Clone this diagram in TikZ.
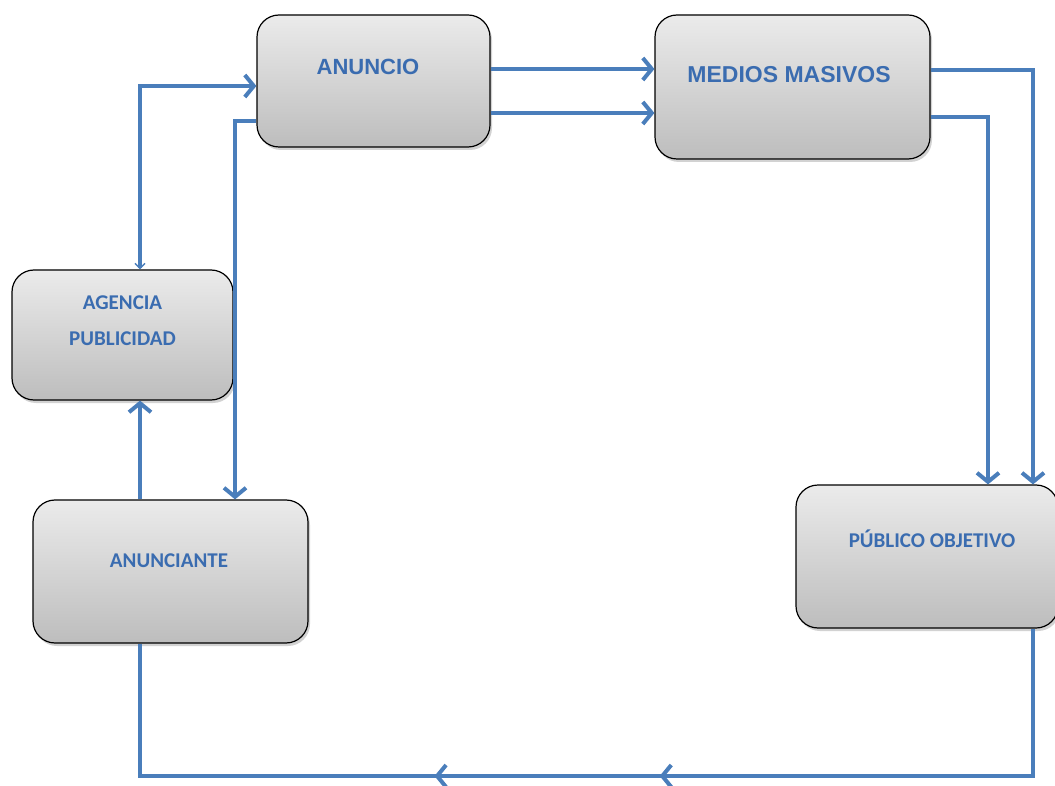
\documentclass[tikz,border=0pt]{standalone}
\usepackage{fontspec}
\newfontfamily\arialb{Liberation Sans}
\newfontfamily\calib{Carlito}
\usetikzlibrary{arrows.meta,shadows,calc,decorations.markings}
\definecolor{lineblue}{HTML}{4A7EBB}
\definecolor{textblue}{HTML}{3A6CB0}
\definecolor{boxtop}{HTML}{EBEBEB}
\definecolor{boxbot}{HTML}{BDBDBD}
\tikzset{
  box/.style={draw=black, line width=1.2pt, rounded corners=22pt,
    top color=boxtop, bottom color=boxbot,
    drop shadow={opacity=0.35, shadow xshift=2pt, shadow yshift=-3pt}},
  lbl/.style={text=textblue, anchor=base, inner sep=0pt},
  conn/.style={draw=lineblue, line width=4pt},
  tip/.style={-{Straight Barb[length=9pt,width=22pt,line width=4pt]}},
}
\begin{document}
\begin{tikzpicture}[x=1pt,y=-1pt]
\useasboundingbox[fill=white] (0,0) rectangle (1055,786);

% boxes
\node[box, minimum width=233pt, minimum height=132pt] (anuncio) at (373.5,81) {};
\node[box, minimum width=275pt, minimum height=144pt] (medios) at (792.5,87) {};
\node[box, minimum width=221pt, minimum height=130pt] (agencia) at (122.5,335) {};
\node[box, minimum width=275pt, minimum height=143pt] (anunciante) at (170.5,571.5) {};
\node[box, minimum width=262pt, minimum height=143pt] (publico) at (927,556.5) {};

% labels
\node[lbl, font=\arialb\bfseries\fontsize{22}{24}\selectfont] (t1) at ([xshift=-5.5pt,yshift=6pt]anuncio.center) {ANUNCIO};
\node[lbl, font=\arialb\bfseries\fontsize{23}{25}\selectfont] (t2) at ([xshift=-3.5pt,yshift=4pt]medios.center) {MEDIOS MASIVOS};
\node[lbl, font=\calib\bfseries\fontsize{21}{23}\selectfont] (t3) at ([yshift=25pt]agencia.center) {AGENCIA};
\node[lbl, font=\calib\bfseries\fontsize{21}{23}\selectfont] (t4) at ([yshift=-10pt]agencia.center) {PUBLICIDAD};
\node[lbl, font=\calib\bfseries\fontsize{21}{23}\selectfont] (t5) at ([xshift=-1.5pt,yshift=4.5pt]anunciante.center) {ANUNCIANTE};
\node[lbl, font=\calib\bfseries\fontsize{21}{23}\selectfont] (t6) at ([xshift=5pt,yshift=9.5pt]publico.center) {PÚBLICO OBJETIVO};

% connector points
\coordinate (agTop) at ([xshift=17.5pt]agencia.north);
\coordinate (agBot) at ([xshift=17.5pt]agencia.south);
\coordinate (anIn) at ([yshift=-5pt]anuncio.west);
\coordinate (anOut) at ([yshift=-40pt]anuncio.west);
\coordinate (ntTopR) at ([xshift=64.5pt]anunciante.north);
\coordinate (ntTopL) at ([xshift=-30.5pt]anunciante.north);
\coordinate (ntBot) at ([xshift=-30.5pt]anunciante.south);
\coordinate (aE1) at ([yshift=12pt]anuncio.east);
\coordinate (aE2) at ([yshift=-32pt]anuncio.east);
\coordinate (mE1) at ([yshift=17pt]medios.east);
\coordinate (mE2) at ([yshift=-30pt]medios.east);
\coordinate (pTop1) at ([xshift=106pt]publico.north);
\coordinate (pTop2) at ([xshift=61pt]publico.north);
\coordinate (pBot) at ([xshift=106pt]publico.south);
\coordinate (floor) at (0,776);

% connectors
\draw[conn, {Straight Barb[length=5pt,width=10pt,line width=1.5pt]}-{Straight Barb[length=9pt,width=22pt,line width=4pt]}] (agTop) |- (anIn);
\draw[conn, tip] (anOut) -| (ntTopR);
\draw[conn, tip] (ntTopL) -- (agBot);
\draw[conn, tip] (aE1) -- (aE1 -| medios.west);
\draw[conn, tip] (aE2) -- (aE2 -| medios.west);
\draw[conn, tip] (mE1) -| (pTop1);
\draw[conn, tip] (mE2) -| (pTop2);
\draw[conn, line width=3.5pt, postaction={decorate}, decoration={markings,
    mark=at position 0.444 with {\arrow{Straight Barb[length=9pt,width=22pt,line width=4pt]}},
    mark=at position 0.636 with {\arrow{Straight Barb[length=9pt,width=22pt,line width=4pt]}}}]
  (pBot) -- (pBot |- floor) -- (ntBot |- floor) -- (ntBot);
\end{tikzpicture}
\end{document}
